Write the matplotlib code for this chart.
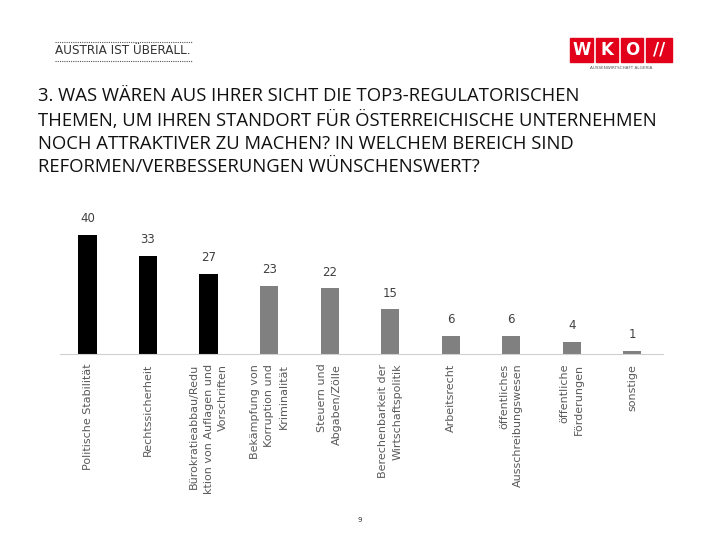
import matplotlib
matplotlib.use("Agg")
import matplotlib.pyplot as plt
from matplotlib.patches import Rectangle
from matplotlib import font_manager

categories = [
    "Politische Stabilität",
    "Rechtssicherheit",
    "Bürokratieabbau/Redu\nktion von Auflagen und\nVorschriften",
    "Bekämpfung von\nKorruption und\nKriminalität",
    "Steuern und\nAbgaben/Zölle",
    "Berechenbarkeit der\nWirtschaftspolitik",
    "Arbeitsrecht",
    "öffentliches\nAusschreibungswesen",
    "öffentliche\nFörderungen",
    "sonstige",
]
values = [40, 33, 27, 23, 22, 15, 6, 6, 4, 1]
top3 = 3

title = ("3. WAS WÄREN AUS IHRER SICHT DIE TOP3-REGULATORISCHEN\n"
         "THEMEN, UM IHREN STANDORT FÜR ÖSTERREICHISCHE UNTERNEHMEN\n"
         "NOCH ATTRAKTIVER ZU MACHEN? IN WELCHEM BEREICH SIND\n"
         "REFORMEN/VERBESSERUNGEN WÜNSCHENSWERT?")

names = {f.name for f in font_manager.fontManager.ttflist}
title_font = "Open Sans" if "Open Sans" in names else "DejaVu Sans"

W, H = 720, 540
fig = plt.figure(figsize=(7.2, 5.4), dpi=100)

# chart area
ax = fig.add_axes([60 / W, 1 - 354 / H, 603 / W, 134 / H])
x = list(range(len(values)))
colors = ["#000000" if i < top3 else "#808080" for i in x]
bars = ax.bar(x, values, width=0.3, color=colors)
ax.set_xlim(-0.455, 9.51)
ax.set_ylim(0, 45)
for b, v in zip(bars, values):
    ax.annotate(str(v), (b.get_x() + b.get_width() / 2, v), xytext=(0, 7),
                textcoords="offset points", ha="center", va="bottom",
                fontsize=8.5, color="#404040")
for s in ["top", "right", "left"]:
    ax.spines[s].set_visible(False)
ax.spines["bottom"].set_color("#d0d0d0")
ax.set_yticks([])
ax.set_xticks(x)
ax.set_xticklabels(categories, rotation=90, va="top", ha="center",
                   multialignment="right", fontsize=8, color="#595959",
                   linespacing=1.55)
ax.tick_params(axis="x", length=0, pad=7)

# title
fig.text(38 / W, 1 - 87 / H, title, ha="left", va="top", fontsize=13.3,
         family=title_font, color="#111111", linespacing=1.37)

# header left
fig.text(55 / W, 1 - 51 / H, "AUSTRIA IST ÜBERALL.", ha="left", va="center",
         fontsize=9.6, family="DejaVu Sans", fontstretch="condensed",
         color="#333333")
for yy in (42, 61):
    fig.add_artist(plt.Line2D([55 / W, 192 / W], [1 - yy / H, 1 - yy / H],
                              color="#555555", lw=0.8, ls=(0, (1, 1))))

# header right: logo
red = "#e2001a"
boxes = [(570, 593, "W"), (596, 618, "K"), (621, 643, "O"), (646, 672, "//")]
for x0, x1, t in boxes:
    fig.add_artist(Rectangle((x0 / W, 1 - 62 / H), (x1 - x0) / W, 24 / H,
                             transform=fig.transFigure, color=red))
    fig.text((x0 + x1) / 2 / W, 1 - 50 / H, t, ha="center", va="center",
             fontsize=12, fontweight="bold", color="white", family="DejaVu Sans")
fig.text(621 / W, 1 - 68 / H, "AUSSENWIRTSCHAFT ALGERIA", ha="center", va="center",
         fontsize=3, color="#555555")

# page number
fig.text(360 / W, 1 - 520 / H, "9", ha="center", va="center", fontsize=5,
         color="#333333")

fig.savefig("out.png", dpi=100)
